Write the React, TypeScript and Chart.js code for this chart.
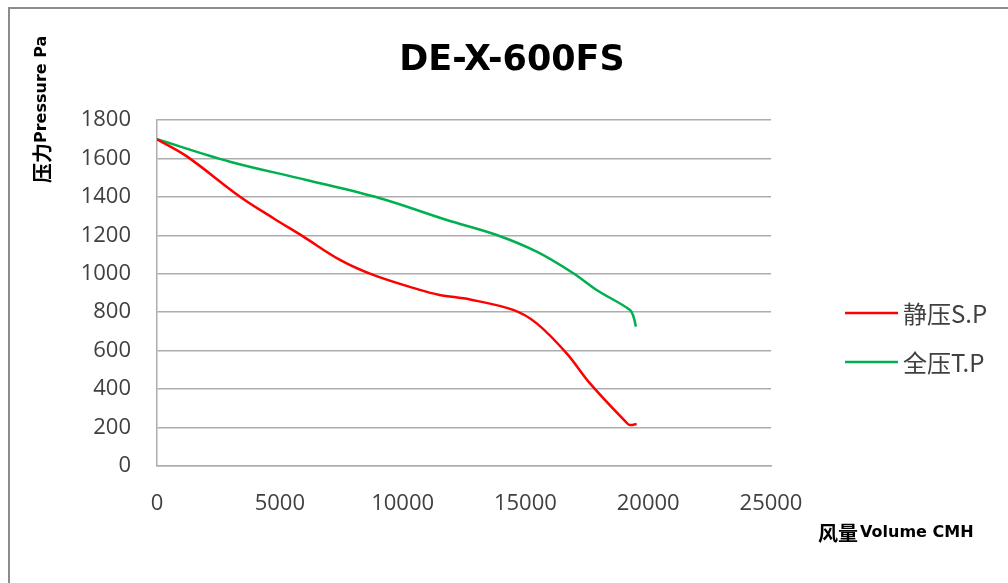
import React, { useEffect, useRef } from "react";
import { Chart, registerables } from "chart.js";

Chart.register(...registerables);

const chartTitle = "DE-X-600FS";
const yTitleCjk = "压力";
const yTitleLatin = "Pressure Pa";
const xTitleCjk = "风量";
const xTitleLatin = "Volume CMH";

const spLabel = "静压S.P";
const spX = [0, 1200, 3380, 4740, 5960, 7450, 8800, 10700, 11500, 12750, 14500, 15460, 16680, 17630, 19120, 19260, 19530];
const spY = [1700, 1612, 1401, 1289, 1193, 1072, 994, 916, 890, 866, 812, 742, 586, 430, 225, 213, 218];

const tpLabel = "全压T.P";
const tpX = [0, 2970, 6090, 9080, 11800, 13830, 15460, 16950, 17900, 19260, 19400, 19500];
const tpY = [1700, 1583, 1488, 1393, 1280, 1202, 1115, 1003, 916, 812, 777, 725];

const xMin = 0;
const xMax = 25000;
const xStep = 5000;
const yMin = 0;
const yMax = 1800;
const yStep = 200;

const TICK_FONT = "'Open Sans', 'DejaVu Sans', sans-serif";
const CJK_FONT = "'Noto Sans CJK SC', sans-serif";
const BOLD_FONT = "'DejaVu Sans', sans-serif";

const decorPlugin = {
  id: "decor",
  beforeDraw(chart: any) {
    const ctx = chart.ctx;
    ctx.save();
    ctx.fillStyle = "#ffffff";
    ctx.fillRect(0, 0, chart.width, chart.height);
    ctx.strokeStyle = "#8c8c8c";
    ctx.lineWidth = 2;
    ctx.beginPath();
    ctx.moveTo(9, chart.height);
    ctx.lineTo(9, 8);
    ctx.lineTo(chart.width, 8);
    ctx.stroke();
    ctx.restore();
  },
  afterDraw(chart: any) {
    const ctx = chart.ctx;
    ctx.save();
    ctx.fillStyle = "#000000";
    ctx.font = "bold 35px " + BOLD_FONT;
    ctx.textAlign = "center";
    ctx.textBaseline = "alphabetic";
    ctx.fillText(chartTitle, 512, 70);

    ctx.save();
    ctx.translate(42, 183);
    ctx.rotate(-Math.PI / 2);
    ctx.textAlign = "left";
    ctx.textBaseline = "middle";
    ctx.font = "bold 20px " + CJK_FONT;
    ctx.fillText(yTitleCjk, 0, 0);
    const w1 = ctx.measureText(yTitleCjk).width;
    ctx.font = "bold 16px " + BOLD_FONT;
    ctx.fillText(yTitleLatin, w1, 0);
    ctx.restore();

    ctx.textAlign = "left";
    ctx.textBaseline = "middle";
    ctx.font = "bold 20px " + CJK_FONT;
    ctx.fillText(xTitleCjk, 818, 533);
    const w2 = ctx.measureText(xTitleCjk).width;
    ctx.font = "bold 16px " + BOLD_FONT;
    ctx.fillText(xTitleLatin, 818 + w2 + 2, 533);

    const items = chart.data.datasets;
    const ys = [313, 362];
    items.forEach((ds: any, i: number) => {
      const y = ys[i];
      ctx.strokeStyle = ds.borderColor;
      ctx.lineWidth = 2.5;
      ctx.beginPath();
      ctx.moveTo(845, y);
      ctx.lineTo(898, y);
      ctx.stroke();
      ctx.fillStyle = "#404040";
      ctx.font = "24px " + CJK_FONT;
      ctx.textAlign = "left";
      ctx.textBaseline = "middle";
      ctx.fillText(ds.label, 903, y + 1);
    });
    ctx.restore();
  },
};

export default function App() {
  const ref = useRef<HTMLCanvasElement | null>(null);

  useEffect(() => {
    if (!ref.current) return;
    const spData = spX.map((x, i) => ({ x, y: spY[i] }));
    const tpData = tpX.map((x, i) => ({ x, y: tpY[i] }));
    const chart = new Chart(ref.current, {
      type: "line",
      data: {
        datasets: [
          {
            label: spLabel,
            data: spData,
            borderColor: "#ff0000",
            backgroundColor: "#ff0000",
            borderWidth: 2.5,
            pointRadius: 0,
            tension: 0.35,
            fill: false,
          },
          {
            label: tpLabel,
            data: tpData,
            borderColor: "#00b050",
            backgroundColor: "#00b050",
            borderWidth: 2.5,
            pointRadius: 0,
            tension: 0.35,
            fill: false,
          },
        ],
      },
      options: {
        responsive: false,
        animation: false,
        layout: { padding: { top: 120, right: 237, left: 0, bottom: 0 } },
        plugins: {
          legend: { display: false },
          title: { display: false },
          tooltip: { enabled: false },
        },
        scales: {
          x: {
            type: "linear",
            min: xMin,
            max: xMax,
            grid: { display: false, drawTicks: false },
            border: { display: true, color: "#adadad", width: 1.5 },
            ticks: {
              stepSize: xStep,
              padding: 25,
              color: "#404040",
              font: { family: TICK_FONT, size: 22 },
              maxRotation: 0,
              callback: (v: any) => String(v),
            },
            afterFit(scale: any) {
              scale.height = 117;
            },
          },
          y: {
            type: "linear",
            min: yMin,
            max: yMax,
            grid: { color: "#adadad", lineWidth: 1.5, drawTicks: false },
            border: { display: true, color: "#adadad", width: 1.5 },
            ticks: {
              stepSize: yStep,
              padding: 26,
              color: "#404040",
              font: { family: TICK_FONT, size: 22 },
              callback: (v: any) => String(v),
            },
            afterFit(scale: any) {
              scale.width = 157;
            },
          },
        },
      },
      plugins: [decorPlugin],
    } as any);
    return () => chart.destroy();
  }, []);

  return (
    <div style={{ position: "fixed", left: 0, top: 0, width: 1008, height: 583, background: "#fff" }}>
      <canvas ref={ref} width={1008} height={583} />
    </div>
  );
}
